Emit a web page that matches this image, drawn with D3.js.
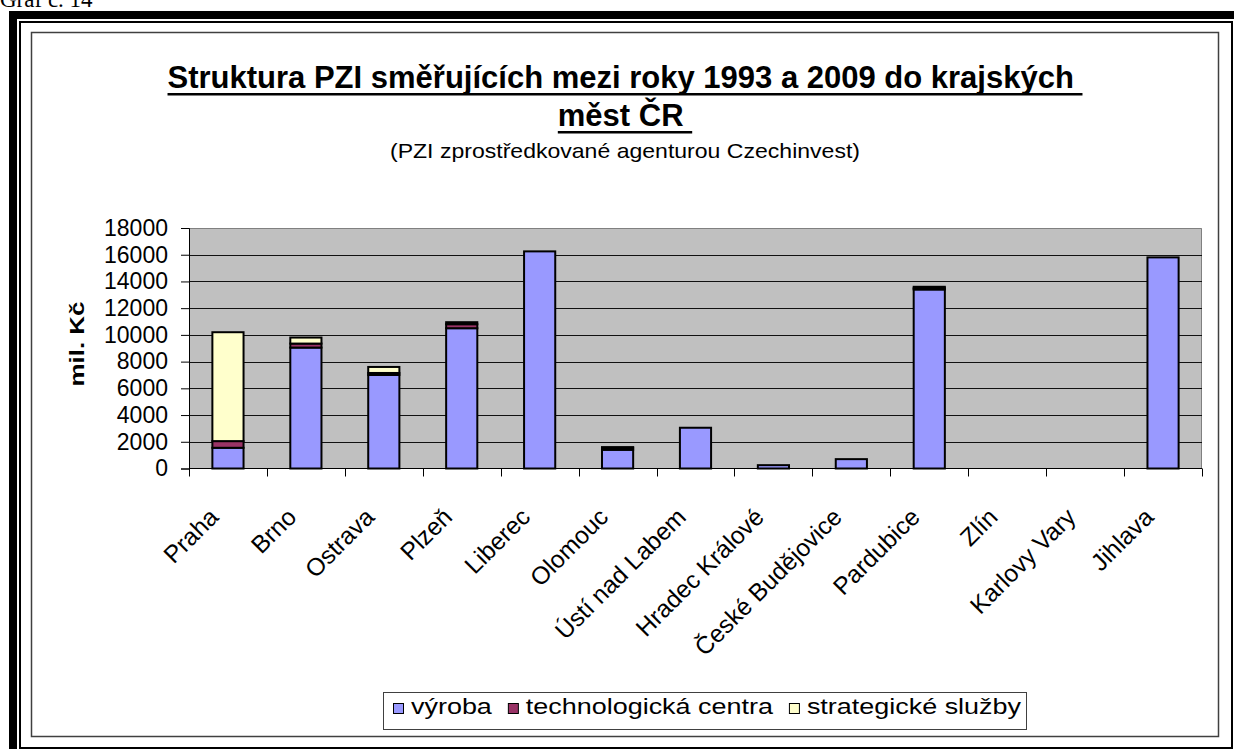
<!DOCTYPE html>
<html><head><meta charset="utf-8">
<script src="https://cdn.jsdelivr.net/npm/d3@7"></script>
<style>body{margin:0;background:#fff;} svg{display:block;}</style>
</head><body>
<svg id="c" width="1234" height="749"></svg>
<script>
// ---- data ----
const categories = ["Praha","Brno","Ostrava","Plzeň","Liberec","Olomouc","Ústí nad Labem","Hradec Králové","České Budějovice","Pardubice","Zlín","Karlovy Vary","Jihlava"];
const seriesNames = ["výroba","technologická centra","strategické služby"];
const vyroba = [1550, 9050, 7000, 10500, 16250, 1400, 3050, 250, 700, 13400, 0, 0, 15800];
const technologickaCentra = [500, 300, 150, 300, 0, 150, 0, 0, 0, 100, 0, 0, 0];
const strategickeSluzby = [8150, 450, 450, 150, 0, 50, 0, 0, 0, 100, 0, 0, 0];
const yTicks = [0,2000,4000,6000,8000,10000,12000,14000,16000,18000];
const seriesColors = ["#9999FF","#993366","#FFFFCC"];
const titleLines = ["Struktura PZI směřujících mezi roky 1993 a 2009 do krajských", "měst ČR"];
const subtitle = "(PZI zprostředkované agenturou Czechinvest)";
const yTitle = "mil. Kč";
const pageLabel = "Graf č. 14";

// ---- drawing ----
(function(){
const svg = d3.select("#c");
const FONT = "Arial, 'Liberation Sans', sans-serif";

svg.append("text").attr("x",0).attr("y",7)
  .style("font-family","'Times New Roman','Liberation Serif',serif").style("font-size","23px")
  .text(pageLabel);

// page border (thick-thin)
svg.append("rect").attr("x",9).attr("y",11).attr("width",1225).attr("height",8).attr("fill","#000");
svg.append("rect").attr("x",9).attr("y",11).attr("width",8).attr("height",738).attr("fill","#000");
svg.append("rect").attr("x",20).attr("y",22).attr("width",1212).attr("height",726)
  .attr("fill","none").attr("stroke","#000").attr("stroke-width",2);

// chart area
svg.append("rect").attr("x",31.5).attr("y",32.5).attr("width",1187).attr("height",704)
  .attr("fill","#fff").attr("stroke","#404040").attr("stroke-width",1.5);

const cx = 625;
const titleY = [88, 126];
titleLines.forEach((t,i)=>{
  const tx = svg.append("text").attr("y",titleY[i])
    .style("font-family",FONT).style("font-size","31px").style("font-weight","bold").attr("fill","#000")
    .text(t);
  const w = tx.node().getComputedTextLength();
  const sp = 31*0.278;
  const x0 = cx - (w+sp)/2;
  tx.attr("x",x0);
  svg.append("rect").attr("x",x0).attr("y",titleY[i]+5).attr("width",w+sp).attr("height",2.5).attr("fill","#000");
});
svg.append("text").attr("x",cx).attr("y",158).attr("text-anchor","middle")
  .style("font-family",FONT).style("font-size","21px").attr("fill","#000")
  .attr("textLength",470).attr("lengthAdjust","spacingAndGlyphs").text(subtitle);

// plot
const pL = 189, pR = 1202, pT = 228, pB = 468.5;
const x = d3.scaleBand().domain(categories).range([pL,pR]).paddingInner(0).paddingOuter(0);
const y = d3.scaleLinear().domain([0,18000]).range([pB,pT]);

svg.append("rect").attr("x",pL).attr("y",pT).attr("width",pR-pL).attr("height",pB-pT).attr("fill","#C0C0C0");
svg.append("path").attr("d",`M${pL},${pT+0.5}H${pR-0.5}V${pB}`).attr("fill","none").attr("stroke","#808080").attr("stroke-width",1);

svg.append("g").selectAll("line").data(yTicks.filter(t=>t>0 && t<18000)).join("line")
  .attr("x1",pL).attr("x2",pR).attr("y1",d=>Math.round(y(d))+0.5).attr("y2",d=>Math.round(y(d))+0.5)
  .attr("stroke","#111").attr("stroke-width",1);

const rows = categories.map((c,i)=>({cat:c, [seriesNames[0]]:vyroba[i], [seriesNames[1]]:technologickaCentra[i], [seriesNames[2]]:strategickeSluzby[i]}));
const stacked = d3.stack().keys(seriesNames)(rows);
const bw = x.bandwidth(), barW = bw/2.5;
svg.append("g").selectAll("g").data(stacked).join("g")
  .attr("fill",(d,i)=>seriesColors[i])
  .selectAll("rect").data(d=>d.filter(s=>s[1]-s[0]>0)).join("rect")
  .attr("x",d=>x(d.data.cat)+(bw-barW)/2).attr("width",barW)
  .attr("y",d=>y(d[1])).attr("height",d=>y(d[0])-y(d[1]))
  .attr("stroke","#000").attr("stroke-width",2);

// y axis
const ya = svg.append("g").attr("transform",`translate(${pL},0)`)
  .call(d3.axisLeft(y).tickValues(yTicks).tickSize(8).tickPadding(13).tickFormat(d3.format("d")));
ya.select(".domain").attr("stroke","#000");
ya.selectAll(".tick line").attr("stroke","#000");
ya.selectAll("text").style("font-family",FONT).style("font-size","23px").attr("fill","#000");

// x axis
svg.append("line").attr("x1",pL).attr("x2",pR).attr("y1",pB).attr("y2",pB).attr("stroke","#000");
const bounds = categories.map(c=>x(c)).concat([x.range()[1]]);
svg.append("g").selectAll("line").data(bounds).join("line")
  .attr("x1",d=>Math.round(d)+0.5).attr("x2",d=>Math.round(d)+0.5).attr("y1",pB).attr("y2",pB+8)
  .attr("stroke","#000");
svg.append("g").selectAll("text").data(categories).join("text")
  .attr("transform",d=>`translate(${x(d)+bw/2-8},${pB+50}) rotate(-45)`)
  .attr("text-anchor","end")
  .style("font-family",FONT).style("font-size","24.5px").attr("fill","#000")
  .text(d=>d);

// y title
svg.append("text").attr("transform","translate(84,344) rotate(-90)").attr("text-anchor","middle")
  .style("font-family",FONT).style("font-size","21px").style("font-weight","bold")
  .attr("textLength",85).attr("lengthAdjust","spacingAndGlyphs").text(yTitle);

// legend
const lg = svg.append("g");
lg.append("rect").attr("x",383.5).attr("y",692.5).attr("width",643).attr("height",37).attr("fill","#fff").attr("stroke","#404040");
const lt = seriesNames.map(n=>lg.append("text").attr("y",714).style("font-family",FONT).style("font-size","22px").attr("fill","#000").text(n));
const widths = lt.map(t=>t.node().getComputedTextLength());
const sq = 10, gapST = 8, gapItem = 16, startX = 393, endX = 1021;
const s = (endX-startX - 3*(sq+gapST) - 2*gapItem)/d3.sum(widths);
let cur = startX;
seriesNames.forEach((n,i)=>{
  lg.append("rect").attr("x",cur+0.5).attr("y",703.5).attr("width",sq).attr("height",sq).attr("fill",seriesColors[i]).attr("stroke","#000");
  cur += sq+gapST;
  lt[i].attr("x",cur).attr("textLength",widths[i]*s).attr("lengthAdjust","spacingAndGlyphs");
  cur += widths[i]*s + gapItem;
});
})();
</script>
</body></html>
